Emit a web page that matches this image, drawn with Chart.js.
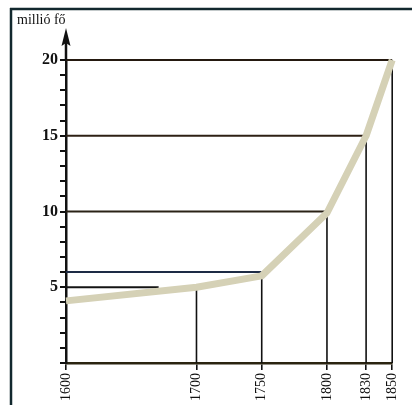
<!DOCTYPE html>
<html>
<head>
<meta charset="utf-8">
<script src="https://cdn.jsdelivr.net/npm/chart.js@4.4.0/dist/chart.umd.min.js"></script>
<style>
  html, body { margin: 0; padding: 0; background: #fff; }
  canvas { display: block; }
</style>
</head>
<body>
<canvas id="chartNepesseg" width="412" height="405"></canvas>
<script>
// népesség (millió fő)
const years = [1600, 1700, 1750, 1800, 1830, 1850];
const population = [4.1, 5.0, 5.75, 9.9, 15, 20];

// vízszintes segédvonalak: szint és a végük évben
const guideLevels = [5, 6, 10, 15, 20];
const guideEnds = [1671, 1750, 1800, 1830, 1850];
const guideColors = ['#141414', '#1d2b45', '#2a2216', '#2e2014', '#24190f'];

const yLabelEvery = 5;
const axisTitle = 'millió fő';

const serif = "'Liberation Serif', 'DejaVu Serif', serif";

const datasets = [];

// fő görbe (elsőként, hogy felül legyen)
datasets.push({
    data: years.map((y, i) => ({ x: y, y: population[i] })),
    borderColor: '#d5d1b6',
    borderWidth: 7,
    pointRadius: 0,
    tension: 0,
    borderCapStyle: 'butt',
    borderJoinStyle: 'round',
    clip: false
});

// függőleges vonalak a pontokból a tengelyig
years.forEach((y, i) => {
    if (i === 0) return;
    datasets.push({
        data: [{ x: y, y: 0 }, { x: y, y: population[i] }],
        borderColor: '#111',
        borderWidth: 1.6,
        pointRadius: 0,
        clip: false
    });
});

// vízszintes segédvonalak
guideLevels.forEach((lvl, i) => {
    datasets.push({
        data: [{ x: years[0], y: lvl }, { x: guideEnds[i], y: lvl }],
        borderColor: guideColors[i],
        borderWidth: 2,
        pointRadius: 0,
        clip: false
    });
});

const keretPlugin = {
    id: 'keret',
    beforeDraw(chart) {
        const c = chart.ctx;
        c.save();
        c.strokeStyle = '#12282e';
        c.lineWidth = 2.5;
        c.beginPath();
        c.moveTo(10, 9);
        c.lineTo(412, 9);
        c.moveTo(11, 8);
        c.lineTo(11, 405);
        c.stroke();
        c.restore();
    },
    afterDraw(chart) {
        const c = chart.ctx;
        const x = chart.chartArea.left;
        const top = chart.chartArea.top;
        c.save();
        c.strokeStyle = '#111';
        c.fillStyle = '#111';
        c.lineWidth = 2.5;
        c.beginPath();
        c.moveTo(x, top);
        c.lineTo(x, 42);
        c.stroke();
        c.beginPath();
        c.moveTo(x, 28);
        c.lineTo(x - 4.5, 46);
        c.lineTo(x, 43);
        c.lineTo(x + 4.5, 46);
        c.closePath();
        c.fill();
        c.font = '14px ' + serif;
        c.textAlign = 'left';
        c.textBaseline = 'alphabetic';
        c.fillText(axisTitle, 17, 24);
        c.restore();
    }
};

new Chart(document.getElementById('chartNepesseg'), {
    type: 'line',
    data: { datasets: datasets },
    options: {
        responsive: false,
        animation: false,
        layout: { padding: { top: 60, right: 15, left: 0, bottom: 0 } },
        scales: {
            x: {
                type: 'linear',
                min: years[0],
                max: years[years.length - 1],
                afterBuildTicks: s => { s.ticks = years.map(v => ({ value: v })); },
                afterFit: s => { s.height = 42; },
                ticks: {
                    autoSkip: false,
                    minRotation: 90,
                    maxRotation: 90,
                    padding: 3,
                    color: '#111',
                    font: { family: serif, size: 14 },
                    callback: v => String(v)
                },
                grid: { drawOnChartArea: false, drawTicks: true, tickLength: 7, color: '#111', lineWidth: 1.6 },
                border: { display: true, color: '#2a2410', width: 2.5 }
            },
            y: {
                min: 0,
                max: 20,
                afterFit: s => { s.width = 66; },
                ticks: {
                    stepSize: 1,
                    autoSkip: false,
                    padding: 2,
                    color: '#111',
                    font: { family: serif, size: 16, weight: 'bold' },
                    callback: v => (v > 0 && v % yLabelEvery === 0) ? String(v) : ''
                },
                grid: { drawOnChartArea: false, drawTicks: true, tickLength: 6, color: '#111', lineWidth: 2 },
                border: { display: true, color: '#111', width: 2.5 }
            }
        },
        plugins: {
            legend: { display: false },
            tooltip: { enabled: false }
        }
    },
    plugins: [keretPlugin]
});
</script>
</body>
</html>
